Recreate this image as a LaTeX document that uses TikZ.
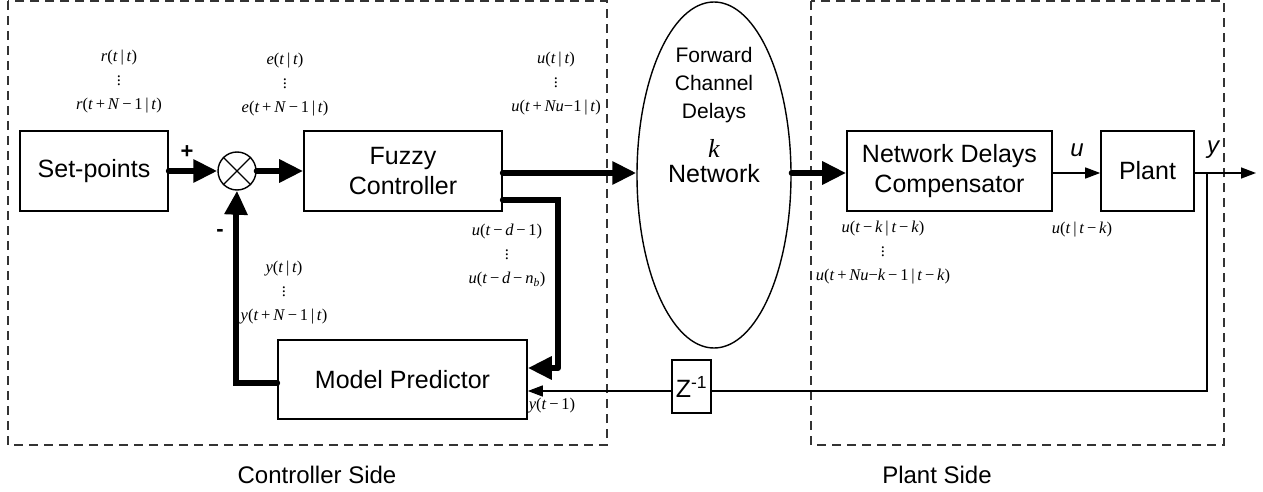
\documentclass[tikz,border=0pt]{standalone}
\usepackage{fontspec}
\setmainfont{Liberation Sans}
\newfontfamily\serfam{Liberation Serif}
\newcommand\vi[1]{\textit{#1}}
\newcommand\mn{\,−\,}
\newcommand\pl{\,+\,}
\newcommand\gv{\,|\,}
\newcommand\vd{$\vdots$}
\usetikzlibrary{arrows.meta,shapes.geometric}
\tikzset{
  blk/.style={draw,line width=1.6pt,minimum width=#1,inner sep=0pt,font=\fontsize{25}{30}\selectfont,align=center},
  side/.style={draw=black!80,line width=1.8pt,dash pattern=on 9pt off 6pt},
  bigflow/.style={line width=6pt,line cap=round,-{Triangle[length=24pt,width=22pt]}},
  bigline/.style={line width=6pt,line cap=round},
  sig/.style={line width=1.4pt,-{Triangle[length=15pt,width=11pt]}},
  sigline/.style={line width=1.4pt},
  mlab/.style={font=\serfam\fontsize{16.5}{24}\selectfont,align=center,inner sep=0pt},
  sidelab/.style={font=\fontsize{24}{28}\selectfont,inner sep=0pt},
}
\begin{document}
\begin{tikzpicture}[x=1pt,y=-1pt]
\useasboundingbox (0,0) rectangle (1263,492);

% controller and plant regions
\draw[side] (8,1) rectangle (607,445);
\draw[side] (811,1) rectangle (1224,445);
\node[sidelab] (cside) at (317,475) {Controller Side};
\node[sidelab] (pside) at (937,475) {Plant Side};

% blocks
\node[blk=148pt,minimum height=80pt] (sp) at (94,171) {Set-points};
\node[draw,circle,line width=1.4pt,minimum size=38pt,inner sep=0pt] (sum) at (237,171) {};
\draw[line width=1.2pt] (sum.north west) -- (sum.south east) (sum.north east) -- (sum.south west);
\node[blk=198pt,minimum height=80pt] (fc) at (403,171) {Fuzzy\\Controller};
\node[draw,ellipse,line width=1.4pt,minimum width=154pt,minimum height=346pt,inner sep=0pt] (net) at (714,175) {};
\node[font=\fontsize{21}{28}\selectfont,align=center,inner sep=0pt] (nettxt) at (714,85) {Forward\\Channel\\Delays};
\node[font=\serfam\fontsize{26}{26}\selectfont\itshape,inner sep=0pt] (netk) at (714,148) {k};
\node[font=\fontsize{25}{30}\selectfont,inner sep=0pt] (netname) at (714,174) {Network};
\node[blk=205pt,minimum height=80pt] (ndc) at (949.5,171) {Network Delays\\Compensator};
\node[blk=93pt,minimum height=80pt] (plant) at (1147.5,171) {Plant};
\node[blk=249pt,minimum height=79pt] (mp) at (402.5,379.5) {Model Predictor};
\node[draw,line width=1.4pt,minimum width=39pt,minimum height=53pt,inner sep=0pt,font=\fontsize{25}{30}\selectfont] (z) at (691.5,386.5) {Z\textsuperscript{-1}};

% main forward path
\draw[bigflow] (sp.east |- 0,171) -- (sum.west);
\draw[bigflow] (sum.east) -- (fc.west);
\draw[bigflow] (fc.east |- 0,173) -- (net.west |- 0,173);
\draw[bigflow] (net.east |- 0,173) -- (ndc.west |- 0,173);
\draw[sig] (ndc.east |- 0,173) -- (plant.west |- 0,173);
\coordinate (yout) at (1256,173);
\draw[sig] (plant.east |- 0,173) -- (yout);

% past inputs to the predictor
\coordinate (c1) at (558,200);
\coordinate (c2) at (558,368);
\draw[bigline] (fc.east |- c1) -- (c1) -- (c2);
\draw[line width=6pt,-{Triangle[length=24pt,width=22pt]}] (c2) -- (mp.east |- c2);

% predicted outputs back to the comparator
\coordinate (c3) at (236,383);
\draw[bigline] (mp.west |- c3) -- (c3) -- (c3 |- 0,215);
\draw[line width=6pt,-{Triangle[length=24pt,width=22pt]}] (236,215) -- (sum.south);

% measured output through the delay
\coordinate (br) at (1207,173);
\coordinate (bd) at (1207,391);
\draw[sigline] (br) -- (bd) -- (z.east |- bd);
\draw[sig] (z.west |- bd) -- (mp.east |- bd);

% signs
\node[font=\fontsize{22}{22}\selectfont\bfseries,inner sep=0pt] (plus) at (187,152) {+};
\node[font=\fontsize{22}{22}\selectfont\bfseries,inner sep=0pt] (minus) at (220,233) {-};
\node[font=\fontsize{24}{24}\selectfont\itshape,inner sep=0pt] (ulab) at (1077,150) {u};
\node[font=\fontsize{24}{24}\selectfont\itshape,inner sep=0pt] (ylab) at (1213,150) {y};

% signal sequences
\node[mlab] (rseq) at (119,82) {\vi{r}(\vi{t}\gv\vi{t})\\\vd\\\vi{r}(\vi{t}\pl\vi{N}\mn1\gv\vi{t})};
\node[mlab] (eseq) at (285,85) {\vi{e}(\vi{t}\gv\vi{t})\\\vd\\\vi{e}(\vi{t}\pl\vi{N}\mn1\gv\vi{t})};
\node[mlab] (useq) at (556,84) {\vi{u}(\vi{t}\gv\vi{t})\\\vd\\\vi{u}(\vi{t}\pl\vi{Nu}−1\gv\vi{t})};
\node[mlab] (upast) at (507,256) {\vi{u}(\vi{t}\mn\vi{d}\mn1)\\\vd\\\vi{u}(\vi{t}\mn\vi{d}\mn\vi{n}\textsubscript{\vi{b}})};
\node[mlab] (yseq) at (284,293) {\vi{y}(\vi{t}\gv\vi{t})\\\vd\\\vi{y}(\vi{t}\pl\vi{N}\mn1\gv\vi{t})};
\node[mlab] (ydel) at (552,406) {\vi{y}(\vi{t}\mn1)};
\node[mlab] (useqk) at (883,253) {\vi{u}(\vi{t}\mn\vi{k}\gv\vi{t}\mn\vi{k})\\\vd\\\vi{u}(\vi{t}\pl\vi{Nu}−\vi{k}\mn1\gv\vi{t}\mn\vi{k})};
\node[mlab] (unow) at (1082,230) {\vi{u}(\vi{t}\gv\vi{t}\mn\vi{k})};
\end{tikzpicture}
\end{document}
